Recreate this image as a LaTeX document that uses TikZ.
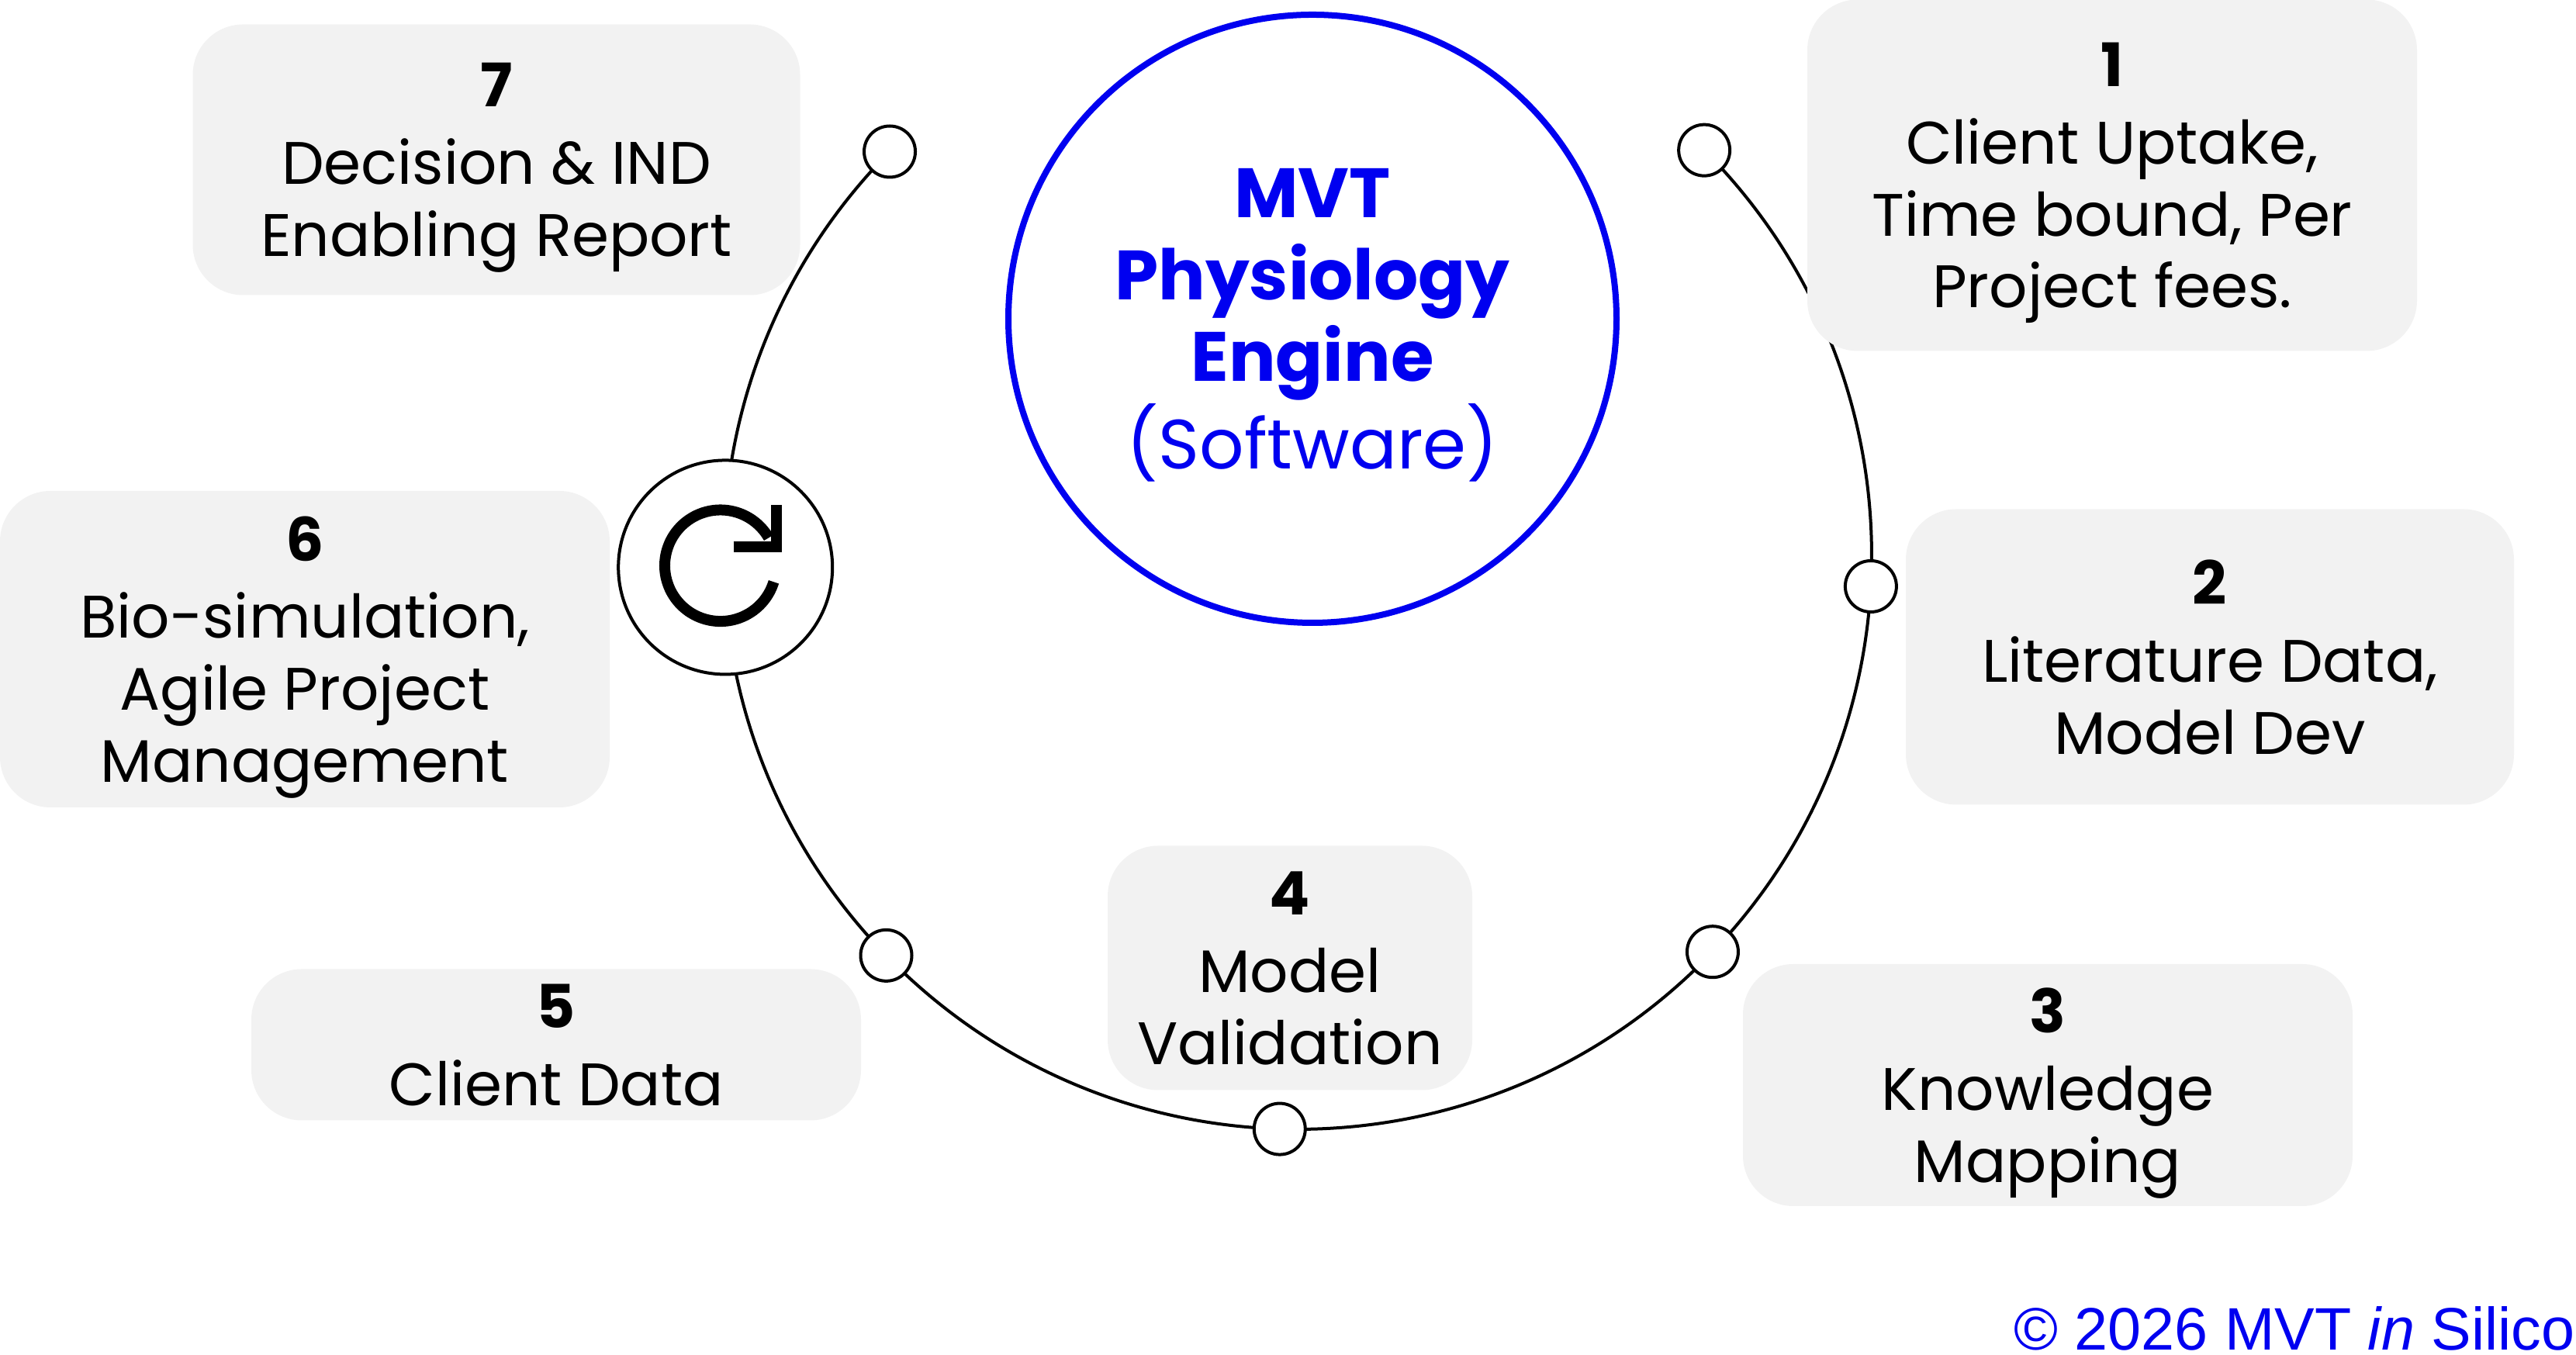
\documentclass[tikz,border=0pt]{standalone}
\usepackage{fontspec}
\setmainfont{Poppins}
\newfontfamily\arialfont{Liberation Sans}
\definecolor{boxgray}{HTML}{F2F2F2}
\definecolor{mvtblue}{RGB}{0,0,240}
\tikzset{
  stage/.style={fill=boxgray,rounded corners=0.65cm,align=center,inner sep=0pt,text depth=-0.08cm,
    font=\fontsize{22}{26.4}\selectfont},
  dot/.style={circle,draw,fill=white,line width=0.04cm,minimum size=0.66cm,inner sep=0pt},
}

\begin{document}
\begin{tikzpicture}
  \useasboundingbox (0,0) rectangle (33.21,17.47);
  \coordinate (ring) at (16.73,10.31);
  \draw[line width=0.04cm] ([shift={(135.3:7.4)}]ring) arc[start angle=135.3,end angle=404.9,radius=7.4];

  \node[stage,minimum width=7.86cm,minimum height=4.53cm] (s1) at (27.23,15.21)
    {\textbf{1}\\[0.07cm]Client Uptake,\\Time bound, Per\\Project fees.};
  \node[stage,minimum width=7.84cm,minimum height=3.81cm] (s2) at (28.49,9.00)
    {\textbf{2}\\[0.07cm]Literature Data,\\Model Dev};
  \node[stage,minimum width=7.86cm,minimum height=3.12cm] (s3) at (26.40,3.48)
    {\textbf{3}\\[0.07cm]Knowledge\\Mapping};
  \node[stage,minimum width=4.70cm,minimum height=3.15cm] (s4) at (16.63,4.99)
    {\textbf{4}\\[0.07cm]Model\\Validation};
  \node[stage,minimum width=7.86cm,minimum height=1.95cm] (s5) at (7.17,4.00)
    {\textbf{5}\\[0.07cm]Client Data};
  \node[stage,minimum width=7.86cm,minimum height=4.08cm] (s6) at (3.93,9.10)
    {\textbf{6}\\[0.07cm]Bio-simulation,\\Agile Project\\Management};
  \node[stage,minimum width=7.83cm,minimum height=3.49cm] (s7) at (6.40,15.41)
    {\textbf{7}\\[0.07cm]Decision \& IND\\Enabling Report};

  \foreach \a/\n in {44.9/d1,-3.1/d2,-43.7/d3,-91.8/d4,-135.8/d5,135.3/d7}
    \node[dot] (\n) at ([shift={(\a:7.4)}]ring) {};

  \node[circle,draw,fill=white,line width=0.04cm,minimum size=2.76cm] (loop) at ([shift={(181.2:7.38)}]ring) {};
  \draw[line width=0.14cm] (9.288,10.177) ++(-17:0.718) arc[start angle=-17,end angle=-330,radius=0.718];
  \draw[line width=0.14cm,miter limit=10] (9.457,10.417) -- (10.008,10.417) -- (10.008,10.963);

  \node[circle,draw=mvtblue,line width=0.08cm,minimum size=7.84cm,text=mvtblue,align=center,text depth=-0.02cm,
    font=\fontsize{25.6}{30}\selectfont] (engine) at (16.92,13.36)
    {\textbf{MVT}\\\textbf{Physiology}\\\textbf{Engine}\\(Software)};

  \node[anchor=base east,inner sep=0pt,text=mvtblue,font=\arialfont\fontsize{22}{26}\selectfont] (copy) at (33.20,0.06)
    {© 2026 MVT \textit{in} Silico};
\end{tikzpicture}
\end{document}
